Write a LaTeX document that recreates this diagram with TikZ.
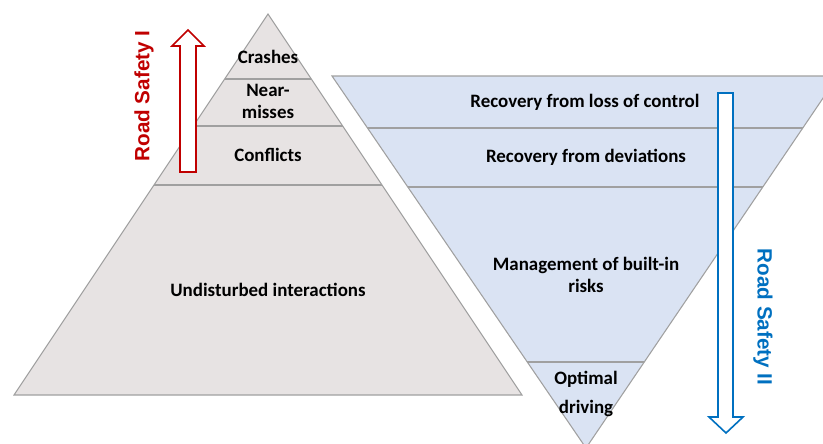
\documentclass[tikz,border=0pt]{standalone}
\usepackage{fontspec}
\setmainfont{Carlito}
\newfontfamily\arialfont{Liberation Sans}
\definecolor{pyrgrey}{HTML}{E7E3E3}
\definecolor{pyrblue}{HTML}{DAE3F3}
\definecolor{rsred}{HTML}{C00000}
\definecolor{rsblue}{HTML}{0070C0}
\definecolor{edgegrey}{HTML}{A0A0A0}
\begin{document}
\begin{tikzpicture}[
  x=0.75pt, y=-0.75pt,
  layer/.style={font=\bfseries\fontsize{14.2}{16.5}\selectfont, align=center, inner sep=0pt},
  edge/.style={draw=edgegrey, line width=0.8pt},
  hollow/.style={fill=white, line width=1.2pt, line join=miter},
  rslabel/.style={font=\arialfont\bfseries\fontsize{15.5}{18}\selectfont, inner sep=0pt}
]
\useasboundingbox (0,0) rectangle (823,443);
\clip (0,0) rectangle (823,443);

\coordinate (apexI) at (268,14);
\coordinate (baseIl) at (14,395);
\coordinate (baseIr) at (522,395);
\fill[pyrgrey] (apexI) -- (baseIl) -- (baseIr) -- cycle;
\begin{scope}
  \clip (apexI) -- (baseIl) -- (baseIr) -- cycle;
  \foreach \y in {79,126,185} \draw[edge] (0,\y) -- (823,\y);
\end{scope}
\draw[edge] (apexI) -- (baseIl) -- (baseIr) -- cycle;

\coordinate (topIIl) at (332,76);
\coordinate (topIIr) at (838,76);
\coordinate (apexII) at (586,448);
\fill[pyrblue] (topIIl) -- (topIIr) -- (apexII) -- cycle;
\begin{scope}
  \clip (topIIl) -- (topIIr) -- (apexII) -- cycle;
  \foreach \y in {128,187,362} \draw[edge] (300,\y) -- (850,\y);
\end{scope}
\draw[edge] (topIIl) -- (topIIr) -- (apexII) -- cycle;

\node[layer] (crash) at (268,57) {Crashes};
\node[layer] (near) at (268,101) {Near-\\misses};
\node[layer] (confl) at (268,155) {Conflicts};
\node[layer] (undist) at (268,290) {Undisturbed interactions};

\node[layer] (lossctl) at (585,102) {Recovery from loss of control};
\node[layer] (devs) at (586,157) {Recovery from deviations};
\node[layer] (builtin) at (586,275) {Management of built-in\\risks};
\node[layer] (optimal) at (586,394) {Optimal\\[5pt]driving};

\draw[hollow, draw=rsred] (180,172) -- (180,46) -- (172,46) -- (188,30)
  -- (204,46) -- (196,46) -- (196,172) -- cycle;
\draw[hollow, draw=rsblue] (718,93) -- (718,417) -- (709,417) -- (726,433)
  -- (743,417) -- (733,417) -- (733,93) -- cycle;

\node[rslabel, text=rsred, rotate=90] (rsI) at (144,96) {Road Safety I};
\node[rslabel, text=rsblue, rotate=-90] (rsII) at (763,317) {Road Safety II};
\end{tikzpicture}
\end{document}
